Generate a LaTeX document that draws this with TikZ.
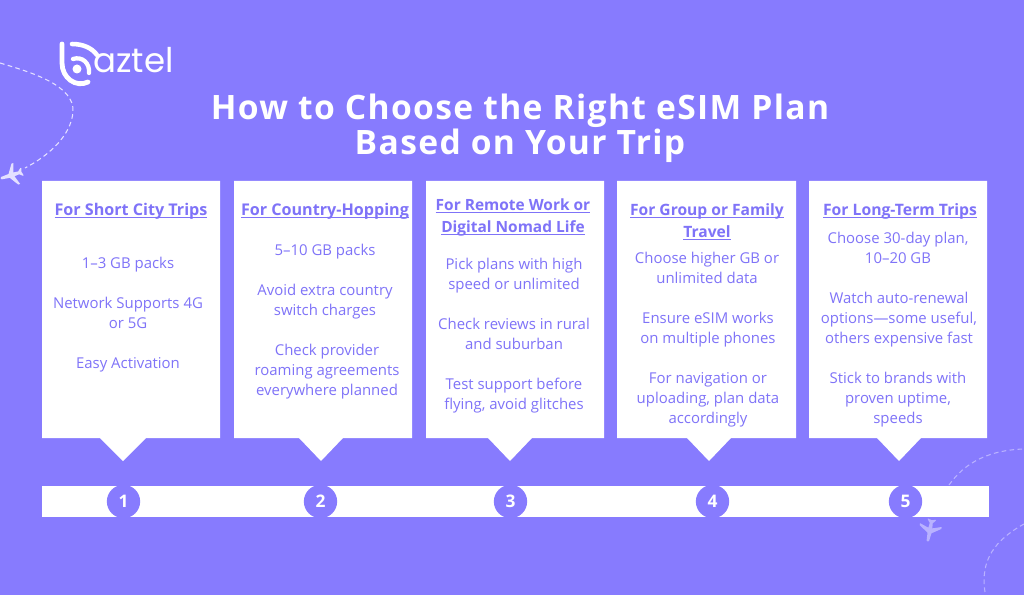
\documentclass[tikz,border=0pt]{standalone}
\usepackage{fontspec}
\setmainfont{Open Sans}
\newfontfamily\titlefont[LetterSpace=4]{Open Sans}
\newfontfamily\logofont{Poppins}
\definecolor{bgp}{HTML}{877BFE}
\definecolor{txtp}{HTML}{7F73F8}
\definecolor{dashp}{HTML}{E4E0FF}
\definecolor{dashq}{HTML}{B9B2FF}
\newcommand{\hul}[1]{\vphantom{#1}\underline{\smash{#1}}}
\tikzset{
  x=0.75pt,y=-0.75pt,
  card/.style={fill=white,draw=none},
  body/.style={text=txtp,font=\fontsize{11.2}{15}\selectfont,align=center,inner sep=0pt,anchor=center},
  head/.style={text=txtp,font=\fontsize{#1}{16.5}\selectfont\bfseries,align=center,inner sep=0pt,anchor=center},
  num/.style={circle,fill=bgp,text=white,minimum size=25pt,inner sep=0pt,font=\fontsize{13}{13}\selectfont\bfseries},
  title/.style={text=white,font=\titlefont\fontsize{25.2}{26.3}\selectfont\bfseries,align=center,inner sep=0pt},
  route/.style={dashp,line width=0.8pt,dash pattern=on 3.5pt off 2.5pt},
  routeb/.style={dashq,line width=0.8pt,dash pattern=on 3.5pt off 2.5pt},
}
\newcommand{\cardshape}[5]{% left right tipL tipX tipR
  \path[card] (#1,181) -- (#2,181) -- (#2,438) -- (#5,438) -- (#4,461) -- (#3,438) -- (#1,438) -- cycle;}
\newcommand{\planeshape}[4]{% x y rotate colour
  \fill[#4,shift={(#1,#2)},rotate=#3]
    (-1,-11) .. controls (0,-12) and (1,-12) .. (1.5,-11) -- (2,-3) -- (11,3) -- (11,5) -- (2,2) -- (1.5,7) -- (4,10) -- (4,11) -- (0,10) -- (-4,11) -- (-4,10) -- (-1.5,7) -- (-2,2) -- (-11,5) -- (-11,3) -- (-2,-3) -- cycle;}
\begin{document}
\begin{tikzpicture}
\useasboundingbox (0,0) rectangle (1024,595);
\fill[bgp] (0,0) rectangle (1024,595);

% routes
\draw[route] (0,63) .. controls (30,72) and (75,85) .. (73,112) .. controls (71,135) and (50,155) .. (25,168);
\draw[routeb] (949,485) .. controls (965,462) and (990,450) .. (1024,449);
\draw[routeb] (985,592) .. controls (980,560) and (995,540) .. (1024,524);

% planes
\planeshape{12}{175}{108}{dashp}
\planeshape{930}{530}{170}{dashq}

% logo
\draw[white,line width=3.6pt,line cap=round] (62,44) -- (62,63) .. controls (62,78) and (76,88) .. (88,82);
\draw[white,line width=3.4pt,line cap=round] (72,44) .. controls (83,44) and (92,48) .. (97,55);
\draw[white,line width=3.2pt,line cap=round] (73,59) .. controls (82,56) and (90,63) .. (89,73);
\fill[white] (77,69) circle[radius=4.5];
\node[text=white,font=\logofont\fontsize{25.5}{26}\selectfont,inner sep=0pt,anchor=base west] (logo) at (93,73) {aztel};

% title
\node[title] (ttl) at (520,128.5) {How to Choose the Right eSIM Plan\\Based on Your Trip};

% cards
\cardshape{42}{220}{100}{123}{146}
\cardshape{234}{412}{299}{321}{343}
\cardshape{426}{604}{488}{510}{532}
\cardshape{617}{796}{687}{709}{731}
\cardshape{809}{987}{877}{899}{921}

% bar and numbers
\fill[white] (42,486) rectangle (989,517);
\node[num] (n1) at (123.5,501.5) {1};
\node[num] (n2) at (320.5,501.5) {2};
\node[num] (n3) at (510.5,501.5) {3};
\node[num] (n4) at (712.5,501.5) {4};
\node[num] (n5) at (905.5,501.5) {5};

% card 1
\node[head=12.1] (h1) at (131,211.5) {\hul{For Short City Trips}};
\node[body] (a1) at (128,265) {1–3 GB packs};
\node[body] (a2) at (128,313) {Network Supports 4G\\or 5G};
\node[body] (a3) at (128,365) {Easy Activation};
% card 2
\node[head=12.1] (h2) at (325,211.5) {\hul{For Country-Hopping}};
\node[body] (b1) at (325,252) {5–10 GB packs};
\node[body] (b2) at (325,302) {Avoid extra country\\switch charges};
\node[body] (b3) at (327,372) {Check provider\\roaming agreements\\everywhere planned};
% card 3
\node[head=11.6] (h3) at (513,217.5) {\hul{For Remote Work or}\\\hul{Digital Nomad Life}};
\node[body] (c1) at (514,276) {Pick plans with high\\speed or unlimited};
\node[body] (c2) at (514,334) {Check reviews in rural\\and suburban};
\node[body] (c3) at (514,396) {Test support before\\flying, avoid glitches};
% card 4
\node[head=11.7] (h4) at (707,221.5) {\hul{For Group or Family}\\\hul{Travel}};
\node[body] (d1) at (707,268) {Choose higher GB or\\unlimited data};
\node[body] (d2) at (708,330) {Ensure eSIM works\\on multiple phones};
\node[body] (d3) at (708,400) {For navigation or\\uploading, plan data\\accordingly};
% card 5
\node[head=11.8] (h5) at (900,211.5) {\hul{For Long-Term Trips}};
\node[body] (e1) at (898,248) {Choose 30-day plan,\\10–20 GB};
\node[body] (e2) at (899,320) {Watch auto-renewal\\options—some useful,\\others expensive fast};
\node[body] (e3) at (898,400) {Stick to brands with\\proven uptime,\\speeds};
\end{tikzpicture}
\end{document}
